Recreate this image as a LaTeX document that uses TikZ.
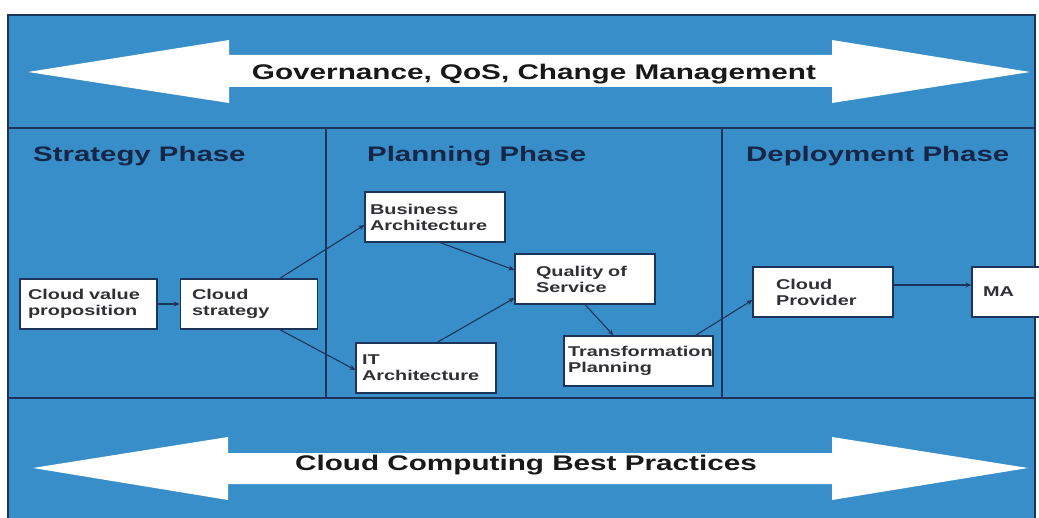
\documentclass[tikz,border=0pt]{standalone}
\usepackage{fontspec}
\usepackage{tikz}
\usetikzlibrary{arrows.meta, positioning}

\newfontfamily\widesans[FakeStretch=1.4]{Liberation Sans}

\definecolor{panelblue}{RGB}{56,142,201}
\definecolor{linenavy}{RGB}{28,52,90}
\definecolor{titlenavy}{RGB}{22,38,70}
\definecolor{boxgray}{RGB}{48,48,54}

\begin{document}
\begin{tikzpicture}[x=1pt, y=-1pt,
    frame/.style={draw=linenavy, line width=1.6pt},
    banner/.style={fill=white},
    bannertext/.style={font=\widesans\bfseries\fontsize{21.2}{24}\selectfont, text=black!90, inner sep=0pt, anchor=base},
    phase/.style={font=\widesans\bfseries\fontsize{21}{24}\selectfont, text=titlenavy, inner sep=0pt, anchor=base west},
    box/.style={rectangle, draw=linenavy, fill=white, line width=1.1pt, minimum height=50pt, inner ysep=0pt, align=left, text=boxgray, font=\widesans\bfseries\fontsize{14.2}{16}\selectfont},
    line/.style={draw=linenavy, line width=1.1pt, -{Stealth[length=6pt, width=5pt]}}
]
    \useasboundingbox (0,0) rectangle (1039,518);
    \clip (0,0) rectangle (1039,518);

    % Panel and phase grid
    \filldraw[frame, fill=panelblue] (8,15) rectangle (1035,530);
    \draw[frame] (8,128) -- (1035,128);
    \draw[frame] (8,398) -- (1035,398);
    \draw[frame] (326,128) -- (326,398);
    \draw[frame] (722,128) -- (722,398);

    % Banners
    \fill[banner] (28,72) -- (229,40) -- (229,55) -- (832,55) -- (832,40) -- (1030,72)
        -- (832,103) -- (832,87) -- (229,87) -- (229,103) -- cycle;
    \node[bannertext] (GOV) at (534,80) {Governance, QoS, Change Management};

    \fill[banner] (33,468) -- (228,437) -- (228,453) -- (832,453) -- (832,437) -- (1028,468)
        -- (832,500) -- (832,484) -- (228,484) -- (228,500) -- cycle;
    \node[bannertext] (BEST) at (526,471) {Cloud Computing Best Practices};

    % Phase titles
    \node[phase] (P_STRAT) at (33,162)  {Strategy Phase};
    \node[phase] (P_PLAN)  at (367,162) {Planning Phase};
    \node[phase] (P_DEPL)  at (746,162) {Deployment Phase};

    % Strategy boxes
    \node[box, text width=121pt, inner xsep=8pt] (CVP) at (88.5,304) {Cloud value\\proposition};
    \node[box, text width=113pt, inner xsep=12pt, right=22pt of CVP] (CS) {Cloud\\strategy};

    % Planning boxes
    \node[box, text width=130pt, inner xsep=5pt]  (BA)  at (435,217)   {Business\\Architecture};
    \node[box, text width=128pt, inner xsep=6pt]  (ITA) at (426,368)   {IT\\Architecture};
    \node[box, text width=98pt,  inner xsep=21pt] (QOS) at (585,279)   {Quality of\\Service};
    \node[box, text width=141pt, inner xsep=4pt]  (TP)  at (638.5,361) {Transformation\\Planning};

    % Deployment boxes
    \node[box, text width=94pt,  inner xsep=23pt] (CP) at (823,292)  {Cloud\\Provider};
    \node[box, text width=118pt, inner xsep=11pt] (MA) at (1042,292) {MA};

    % Connections
    \draw[line] (CVP) -- (CS);
    \draw[line] ([xshift=-38pt]CS.north east) -- ([yshift=-8pt]BA.west);
    \draw[line] ([xshift=-38pt]CS.south east) -- ([yshift=-2pt]ITA.west);
    \draw[line] ([xshift=5pt]BA.south) -- ([yshift=9pt]QOS.west);
    \draw[line] ([xshift=11pt]ITA.north) -- ([yshift=-19pt]QOS.west);
    \draw[line] (QOS.south) -- ([xshift=-25pt]TP.north);
    \draw[line] ([xshift=-18pt]TP.north east) -- ([yshift=-8pt]CP.west);
    \draw[line] ([yshift=7pt]CP.east) -- ([yshift=7pt]MA.west);
\end{tikzpicture}
\end{document}
